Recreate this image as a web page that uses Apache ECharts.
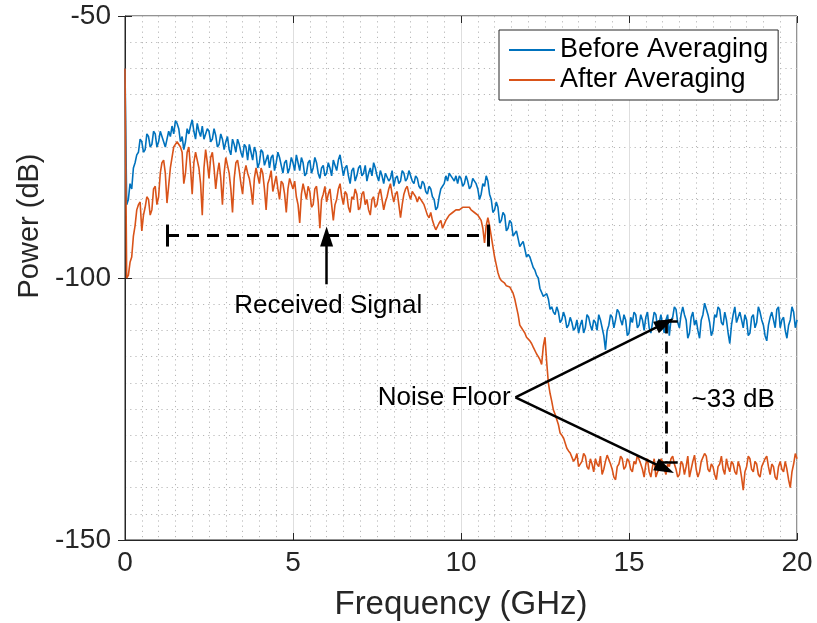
<!DOCTYPE html>
<html>
<head>
<meta charset="utf-8">
<script src="https://cdn.jsdelivr.net/npm/echarts@6/dist/echarts.min.js"></script>
<style>html,body{margin:0;padding:0;background:#fff;}#c{width:817px;height:623px;}</style>
</head>
<body>
<div id="c"></div>
<script>
const freq = [
0,0.05,0.1,0.15,0.2,0.25,0.3,0.35,0.4,0.45,0.5,0.55,0.6,0.65,0.7,0.75,0.8,0.85,0.9,0.95,
1,1.05,1.1,1.15,1.2,1.25,1.3,1.35,1.4,1.45,1.5,1.55,1.6,1.65,1.7,1.75,1.8,1.85,1.9,1.95,
2,2.05,2.1,2.15,2.2,2.25,2.3,2.35,2.4,2.45,2.5,2.55,2.6,2.65,2.7,2.75,2.8,2.85,2.9,2.95,
3,3.05,3.1,3.15,3.2,3.25,3.3,3.35,3.4,3.45,3.5,3.55,3.6,3.65,3.7,3.75,3.8,3.85,3.9,3.95,
4,4.05,4.1,4.15,4.2,4.25,4.3,4.35,4.4,4.45,4.5,4.55,4.6,4.65,4.7,4.75,4.8,4.85,4.9,4.95,
5,5.05,5.1,5.15,5.2,5.25,5.3,5.35,5.4,5.45,5.5,5.55,5.6,5.65,5.7,5.75,5.8,5.85,5.9,5.95,
6,6.05,6.1,6.15,6.2,6.25,6.3,6.35,6.4,6.45,6.5,6.55,6.6,6.65,6.7,6.75,6.8,6.85,6.9,6.95,
7,7.05,7.1,7.15,7.2,7.25,7.3,7.35,7.4,7.45,7.5,7.55,7.6,7.65,7.7,7.75,7.8,7.85,7.9,7.95,
8,8.05,8.1,8.15,8.2,8.25,8.3,8.35,8.4,8.45,8.5,8.55,8.6,8.65,8.7,8.75,8.8,8.85,8.9,8.95,
9,9.05,9.1,9.15,9.2,9.25,9.3,9.35,9.4,9.45,9.5,9.55,9.6,9.65,9.7,9.75,9.8,9.85,9.9,9.95,
10,10.05,10.1,10.15,10.2,10.25,10.3,10.35,10.4,10.45,10.5,10.55,10.6,10.65,10.7,10.75,10.8,10.85,10.9,10.95,
11,11.05,11.1,11.15,11.2,11.25,11.3,11.35,11.4,11.45,11.5,11.55,11.6,11.65,11.7,11.75,11.8,11.85,11.9,11.95,
12,12.05,12.1,12.15,12.2,12.25,12.3,12.35,12.4,12.45,12.5,12.55,12.6,12.65,12.7,12.75,12.8,12.85,12.9,12.95,
13,13.05,13.1,13.15,13.2,13.25,13.3,13.35,13.4,13.45,13.5,13.55,13.6,13.65,13.7,13.75,13.8,13.85,13.9,13.95,
14,14.05,14.1,14.15,14.2,14.25,14.3,14.35,14.4,14.45,14.5,14.55,14.6,14.65,14.7,14.75,14.8,14.85,14.9,14.95,
15,15.05,15.1,15.15,15.2,15.25,15.3,15.35,15.4,15.45,15.5,15.55,15.6,15.65,15.7,15.75,15.8,15.85,15.9,15.95,
16,16.05,16.1,16.15,16.2,16.25,16.3,16.35,16.4,16.45,16.5,16.55,16.6,16.65,16.7,16.75,16.8,16.85,16.9,16.95,
17,17.05,17.1,17.15,17.2,17.25,17.3,17.35,17.4,17.45,17.5,17.55,17.6,17.65,17.7,17.75,17.8,17.85,17.9,17.95,
18,18.05,18.1,18.15,18.2,18.25,18.3,18.35,18.4,18.45,18.5,18.55,18.6,18.65,18.7,18.75,18.8,18.85,18.9,18.95,
19,19.05,19.1,19.15,19.2,19.25,19.3,19.35,19.4,19.45,19.5,19.55,19.6,19.65,19.7,19.75,19.8,19.85,19.9,19.95,
20];

const beforeAveraging = [
-60,-86,-85,-82,-83,-79,-78,-76.5,-76,-73.5,-74,-76,-75.5,-72.5,-73,-75,-74.5,-72,-72.5,-75,
-74,-72,-73,-74,-75,-73.5,-72,-73,-71,-72.5,-70,-70.5,-71.5,-74,-73,-75.5,-74,-71.5,-72.5,-71,
-69.8,-72,-73.5,-70.5,-72,-73,-71,-73.5,-72.5,-71.5,-72,-74,-73.5,-71.5,-72.8,-75,-74.5,-72.5,-73.5,-75.5,
-74,-73,-75.5,-76.5,-73.5,-74.5,-76,-73.5,-74.5,-76,-77,-74.5,-75,-77.5,-74.5,-76,-77.5,-75,-76,-79,
-78,-75.5,-76,-78.5,-77.5,-76.5,-79,-77,-76.5,-79.5,-78,-76,-77,-78.5,-80,-78,-77.5,-80,-79,-77,
-78,-79.5,-76.5,-78,-79.5,-77,-78,-80.5,-80,-78,-77.5,-80,-79,-77,-78,-80,-81,-79,-78.5,-80.5,
-80,-78,-79,-80.5,-77.5,-78.5,-79.5,-77.5,-76.5,-78.5,-80.5,-79,-78.5,-80.5,-82,-79.5,-79,-81.5,-80.5,-79,
-78.5,-80.5,-80,-78.5,-81.5,-80,-79,-80.5,-78,-79,-80.5,-81.5,-79.5,-80.5,-82,-80,-80,-81.5,-81,-79.5,
-82.5,-81,-80.5,-82,-81.5,-79.5,-80,-81.5,-81,-79.5,-80.5,-81.5,-82,-80.5,-81,-82.5,-83,-81.5,-82,-83.5,
-84,-82.5,-83,-84.5,-85,-87,-86.5,-84.5,-83,-82.5,-82,-80.5,-81.5,-80,-80.5,-81,-81.5,-80.5,-82,-80.5,
-81,-82.5,-82,-80.5,-81.5,-83,-82.5,-81,-81.5,-82,-83,-85,-84,-82,-82.5,-80.5,-81.5,-84,-85,-87.5,
-87,-85.5,-86.5,-89.5,-89,-87.5,-88,-91,-90.5,-89,-89.5,-92,-91.5,-91,-92.5,-94,-93.5,-93,-94.5,-96,
-95.5,-96,-97,-98,-98.5,-99.5,-100,-102,-102,-103.5,-103.5,-103,-104,-106,-105.5,-106.5,-107,-105.5,-106.5,-108.5,
-108,-106.5,-107.5,-109.5,-109,-107.5,-108.5,-110,-109.5,-108,-110.5,-109,-108,-110.5,-109.5,-107,-107.5,-109,-110,-108,
-108.5,-110,-107,-108,-109.5,-111,-113.7,-110,-109,-107,-107.5,-109.5,-108,-106,-106.5,-108,-109,-107,-108,-111,
-110.5,-107.5,-108.5,-106.5,-107,-109.5,-109,-107,-108,-110,-107.5,-106.5,-109.5,-110.5,-108.5,-106.5,-107,-109.5,-108.5,-107,
-109,-110.5,-108,-107,-111,-108,-107.5,-105.5,-106,-108.5,-109.5,-107,-105.5,-107,-108,-111.5,-110.5,-107.5,-106.5,-109,
-108,-110,-111.5,-108,-107,-104.8,-105,-107,-108.5,-111,-110,-107,-107.5,-105.5,-106,-108.5,-109,-106.5,-108,-110.5,
-112.5,-109,-107,-105.5,-108.5,-107.5,-106.5,-108,-109.5,-107,-108,-111,-110.5,-107.5,-107,-109.5,-108.5,-105.5,-106.5,-108,
-109,-111,-112,-109,-107.5,-106.5,-108,-109.5,-106,-105.5,-109.5,-108,-107.5,-110,-111.5,-109,-108,-105.5,-106.5,-109.5,
-108];

const afterAveraging = [
-60,-100,-99.5,-97,-96,-92,-90,-87,-86,-85.5,-91,-88,-86.5,-84.5,-85,-88,-87,-83,-82.5,-86,
-84.5,-80,-78,-77.5,-80,-85.7,-85.5,-79,-77,-75,-74.5,-74,-73.7,-75,-76,-82,-80,-76,-75,-79,
-84,-78,-76,-77.5,-79,-82,-88,-79,-75.5,-78,-81,-77,-76,-79,-83,-80,-78,-81,-86,-80,
-77,-78.5,-80,-83,-87.5,-81,-78,-77.5,-79.5,-82,-84,-80,-78.5,-80,-81,-83,-86,-81,-79,-80.5,
-82,-79,-80,-83,-87,-82,-81,-79.5,-83.5,-82,-80.5,-83,-85,-81.5,-82,-84,-87.5,-83,-81,-82,
-83,-81.5,-84.5,-86,-89.5,-84,-82,-83.5,-85,-82.5,-83.5,-86.5,-86,-83,-82.5,-85.5,-90.5,-85,-84,-82.5,
-85.5,-84,-83,-86,-89,-86,-85,-83,-82,-84.5,-86,-83.5,-84,-86.5,-87.5,-84.5,-85,-83,-84,-87,
-86.5,-84,-83.5,-86,-85,-87,-88,-85,-84.5,-86.5,-86,-84,-83,-85,-87,-85.5,-84.5,-83,-82,-84,
-85.5,-84,-83.5,-86,-88.5,-86,-84,-83,-82.5,-84,-85,-83.5,-84,-84.5,-85.5,-84.5,-85,-85.5,-86,-87,
-88,-88.5,-87.5,-89,-90,-90.8,-91,-89.5,-89,-90.5,-90.5,-89,-88.5,-88,-88,-87.5,-87.5,-87,-87,-87,
-87,-86.5,-86.5,-86.5,-86.5,-86.5,-87,-87,-87.5,-87.5,-88,-88.5,-89,-90.5,-93.3,-90,-88.5,-90,-92,-94,
-96,-97.5,-99,-100,-100.5,-100.5,-101,-101.5,-101.5,-101.7,-102,-102.9,-104,-105.5,-107,-109,-109.5,-110,-110.5,-111.3,
-111.5,-112,-112.5,-113.2,-113.5,-114.5,-115,-115.6,-116.5,-113,-111.3,-116,-120,-122,-123.5,-125.2,-126,-127,-128,-129.6,
-130,-130.5,-131.5,-132.5,-133,-133.4,-133.5,-135,-134.5,-133.5,-136,-136.1,-135,-133.5,-134,-136,-136.5,-134.5,-135.5,-137,
-134.5,-135.5,-136,-134,-137.5,-136.5,-135,-133.8,-134,-135.5,-136.5,-138,-138.5,-136,-135.5,-134,-134.5,-136.5,-136,-134.5,
-135,-136.5,-137,-135,-135.5,-133.8,-134,-135.5,-136.5,-138,-135.5,-134.5,-137,-138,-136,-134.5,-138,-137,-136.5,-134.5,
-135,-136.5,-137.5,-135.5,-136,-134.5,-134,-135.5,-136.5,-138,-137.5,-135,-135.5,-137.5,-136,-134,-138,-136.5,-135,-133.8,
-136.5,-138,-137,-135,-135,-133.5,-134,-136.5,-137,-135.5,-136,-137.5,-138.5,-136,-135.5,-134,-136.5,-137.5,-134.5,-136,
-137,-135,-135.5,-137,-137.5,-135,-136,-138,-140.5,-137,-136,-134,-134.5,-136.5,-137,-135,-135.5,-137.5,-138,-136,
-136,-134.5,-134,-136,-137.5,-135.5,-136,-138,-138.5,-136,-135,-136.5,-137,-135,-136.5,-138.5,-140,-137,-135.5,-133.5,
-134.5];

const seriesNames = ['Before Averaging', 'After Averaging'];
const xTicks = [0, 5, 10, 15, 20];
const yTicks = [-150, -100, -50];

// Annotation anchor values (data units)
const signalSpan = { x1: 1.25, x2: 10.8, y: -91.9, capHalf: 2.1 };
const signalArrow = { x: 6.0, yFrom: -101.2, yTo: -92.1 };
const signalLabel = { x: 6.05, y: -105.4, text: 'Received Signal' };
const noiseLabel = { x: 9.5, y: -122.8, text: 'Noise Floor' };
const noiseArrowStart = { x: 11.62, y: -122.8 };
const noiseTop = { x: 16.07, y: -108.6 };
const noiseBottom = { x: 16.07, y: -136.4 };
const gapLine = { x: 16.12, yTop: -108.3, yBottom: -135.1, capL: 15.85, capR: 16.45 };
const gapLabel = { x: 18.1, y: -123.2, text: '~33 dB' };

const FONT = '"Liberation Sans", Arial, Helvetica, sans-serif';
const AX = '#262626';

const pair = (xs, ys) => xs.map((x, i) => [x, ys[i]]);

const chart = echarts.init(document.getElementById('c'), null, { renderer: 'canvas' });

const arrowEnd = { symbol: 'triangle', symbolSize: [13, 20] };
const solidBlack = { color: '#000', width: 2.5, type: 'solid' };
const dashedBlack = { color: '#000', width: 2.8, type: [12, 8] };

chart.setOption({
  animation: false,
  backgroundColor: '#fff',
  textStyle: { fontFamily: FONT },
  grid: { left: 125, right: 20, top: 16, bottom: 83, show: true, borderColor: AX, borderWidth: 1, backgroundColor: '#fff', containLabel: false, outerBoundsMode: 'none' },
  legend: {
    data: seriesNames,
    orient: 'vertical',
    left: 499, top: 30,
    icon: 'rect', itemWidth: 46, itemHeight: 2, itemGap: 0,
    padding: [5, 10, 5, 10],
    backgroundColor: '#fff', borderColor: AX, borderWidth: 1,
    textStyle: { fontSize: 27, color: '#000', lineHeight: 30, fontFamily: FONT },
    selectedMode: false
  },
  xAxis: [{
    type: 'value', min: 0, max: 20, interval: 5,
    name: 'Frequency (GHz)', nameLocation: 'middle', nameGap: 48,
    nameTextStyle: { fontSize: 33, color: AX, fontFamily: FONT },
    axisLine: { show: true, lineStyle: { color: AX, width: 1 } },
    axisTick: { show: true, inside: true, length: 7, lineStyle: { color: AX } },
    axisLabel: { fontSize: 28, color: AX, margin: 9, fontFamily: FONT,
      formatter: v => xTicks.includes(v) ? String(v) : '' },
    splitLine: { show: true, lineStyle: { color: '#dedede', width: 1 } },
    minorTick: { show: false, splitNumber: 10 },
    minorSplitLine: { show: true, lineStyle: { color: '#b8b8b8', width: 1, type: [1.2, 4] } }
  }, {
    type: 'value', min: 0, max: 20, interval: 5, position: 'top',
    axisLine: { show: false }, axisLabel: { show: false }, splitLine: { show: false },
    axisTick: { show: true, inside: true, length: 7, lineStyle: { color: AX } }
  }],
  yAxis: [{
    type: 'value', min: -150, max: -50, interval: 50,
    name: 'Power (dB)', nameLocation: 'middle', nameGap: 80,
    nameTextStyle: { fontSize: 29, color: AX, fontFamily: FONT, padding: [0, 0, 0, 104] },
    axisLine: { show: true, lineStyle: { color: AX, width: 1 } },
    axisTick: { show: true, inside: true, length: 7, lineStyle: { color: AX } },
    axisLabel: { fontSize: 28, color: AX, margin: 14, fontFamily: FONT,
      formatter: v => yTicks.includes(v) ? String(v) : '' },
    splitLine: { show: true, lineStyle: { color: '#dedede', width: 1 } },
    minorTick: { show: false, splitNumber: 10 },
    minorSplitLine: { show: true, lineStyle: { color: '#b8b8b8', width: 1, type: [1.2, 4] } }
  }, {
    type: 'value', min: -150, max: -50, interval: 50, position: 'right',
    axisLine: { show: false }, axisLabel: { show: false }, splitLine: { show: false },
    axisTick: { show: true, inside: true, length: 7, lineStyle: { color: AX } }
  }],
  series: [
    {
      name: seriesNames[0], type: 'line', data: pair(freq, beforeAveraging),
      showSymbol: false, symbol: 'none', color: '#0072BD',
      lineStyle: { width: 1.6, color: '#0072BD' }, z: 3
    },
    {
      name: seriesNames[1], type: 'line', data: pair(freq, afterAveraging),
      showSymbol: false, symbol: 'none', color: '#D95319',
      lineStyle: { width: 1.6, color: '#D95319' }, z: 4
    },
    {
      name: 'annotations', type: 'line', data: [], z: 10,
      markLine: {
        silent: true, animation: false, symbol: ['none', 'none'],
        label: { show: false }, emphasis: { disabled: true },
        data: [
          [{ coord: [signalSpan.x1, signalSpan.y], lineStyle: dashedBlack }, { coord: [signalSpan.x2, signalSpan.y] }],
          [{ coord: [signalSpan.x1, signalSpan.y + signalSpan.capHalf], lineStyle: { color: '#000', width: 3, type: 'solid' } }, { coord: [signalSpan.x1, signalSpan.y - signalSpan.capHalf] }],
          [{ coord: [signalSpan.x2, signalSpan.y + signalSpan.capHalf], lineStyle: { color: '#000', width: 3, type: 'solid' } }, { coord: [signalSpan.x2, signalSpan.y - signalSpan.capHalf] }],
          [{ coord: [signalArrow.x, signalArrow.yFrom], lineStyle: solidBlack }, Object.assign({ coord: [signalArrow.x, signalArrow.yTo] }, arrowEnd)],
          [{ coord: [noiseArrowStart.x, noiseArrowStart.y], lineStyle: solidBlack }, Object.assign({ coord: [noiseTop.x, noiseTop.y] }, arrowEnd)],
          [{ coord: [noiseArrowStart.x, noiseArrowStart.y], lineStyle: solidBlack }, Object.assign({ coord: [noiseBottom.x, noiseBottom.y] }, arrowEnd)],
          [{ coord: [gapLine.x, gapLine.yTop], lineStyle: dashedBlack }, { coord: [gapLine.x, gapLine.yBottom] }],
          [{ coord: [gapLine.capL, gapLine.yTop], lineStyle: solidBlack }, { coord: [gapLine.capR, gapLine.yTop] }],
          [{ coord: [gapLine.capL, gapLine.yBottom], lineStyle: solidBlack }, { coord: [gapLine.capR, gapLine.yBottom] }]
        ]
      },
      markPoint: {
        silent: true, animation: false, symbol: 'rect', symbolSize: 1,
        itemStyle: { color: 'rgba(0,0,0,0)' },
        label: { show: true, position: 'inside', color: '#000', fontSize: 26, fontFamily: FONT },
        data: [
          { coord: [signalLabel.x, signalLabel.y], label: { formatter: signalLabel.text } },
          { coord: [noiseLabel.x, noiseLabel.y], label: { formatter: noiseLabel.text } },
          { coord: [gapLabel.x, gapLabel.y], label: { formatter: gapLabel.text } }
        ]
      }
    }
  ]
});
</script>
</body>
</html>
